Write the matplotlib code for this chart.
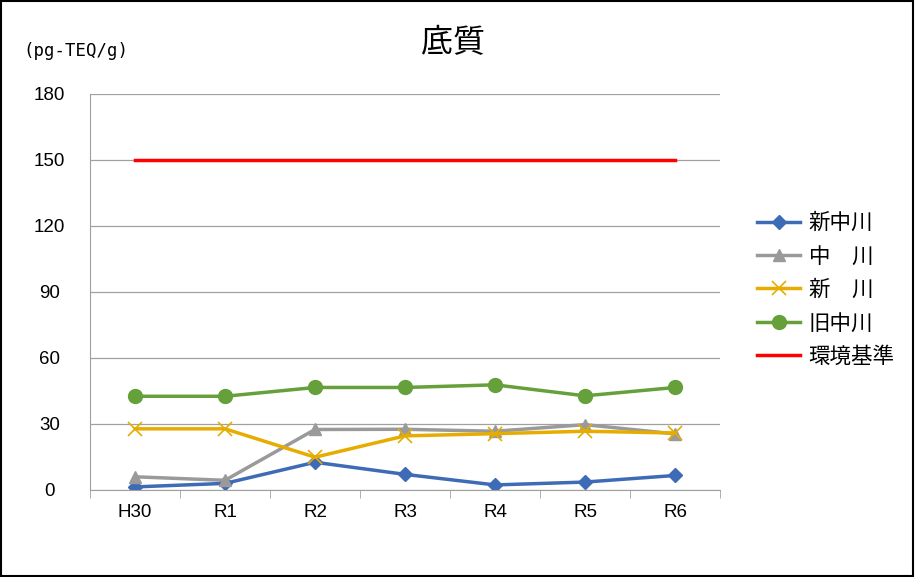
import matplotlib.pyplot as plt
from matplotlib.patches import Rectangle

plt.rcParams['font.family'] = ['Liberation Sans', 'Noto Sans CJK JP', 'DejaVu Sans']

years = ['H30', 'R1', 'R2', 'R3', 'R4', 'R5', 'R6']
shin_nakagawa = [1.4, 3.0, 12.6, 7.1, 2.3, 3.6, 6.6]
nakagawa = [6.0, 4.4, 27.5, 27.6, 26.7, 29.7, 25.5]
shinkawa = [27.8, 27.8, 14.9, 24.6, 25.6, 26.7, 25.9]
kyu_nakagawa = [42.6, 42.6, 46.6, 46.6, 47.8, 42.8, 46.6]
standard = [150] * len(years)

fig = plt.figure(figsize=(9.15, 5.77), dpi=100)
ax = fig.add_axes([0.0984, 0.1508, 0.6885, 0.6863])

x = list(range(len(years)))
ax.plot(x, shin_nakagawa, color='#3e6bb5', lw=2.5, marker='D', ms=7, label='新中川')
ax.plot(x, nakagawa, color='#9a9a9a', lw=2.5, marker='^', ms=9, label='中\u3000川')
ax.plot(x, shinkawa, color='#e6ad00', lw=2.5, marker='x', ms=10, mew=1.2, label='新\u3000川')
ax.plot(x, kyu_nakagawa, color='#65a03a', lw=2.5, marker='o', ms=10, label='旧中川')
ax.plot(x, standard, color='#ff0000', lw=2.5, label='環境基準')

ax.set_xlim(-0.5, 6.5)
ax.set_ylim(0, 180)
ax.set_yticks(range(0, 181, 30))
ax.set_xticks(x)
ax.set_xticklabels(years)
ax.set_xticks([i + 0.5 for i in range(-1, 7)], minor=True)
ax.tick_params(axis='x', which='major', length=0, labelsize=13.5, pad=10)
ax.tick_params(axis='x', which='minor', length=6, color='#a0a0a0')
ax.tick_params(axis='y', length=0, labelsize=13.5, pad=29)
for lbl in ax.get_yticklabels():
    lbl.set_horizontalalignment('center')
ax.grid(axis='y', color='#a0a0a0', lw=0.9)
ax.set_axisbelow(True)
for s in ['top', 'right']:
    ax.spines[s].set_visible(False)
for s in ['left', 'bottom']:
    ax.spines[s].set_color('#a0a0a0')

fig.text(0.495, 0.925, '底質', ha='center', va='center', fontsize=23,
         family=['Noto Sans CJK JP'])
fig.text(0.083, 0.912, '(pg-TEQ/g)', ha='center', va='center', fontsize=12.5,
         family=['DejaVu Sans Mono'])

ax.legend(loc='center left', bbox_to_anchor=(1.028, 0.505), frameon=False,
          handlelength=2.0, handletextpad=0.4, labelspacing=0.53,
          prop={'family': ['Noto Sans CJK JP'], 'size': 15.5})

fig.patches.append(Rectangle((0.001, 0.002), 0.997, 0.996, transform=fig.transFigure,
                             fill=False, edgecolor='black', lw=1.5))

fig.savefig('out.png', dpi=100)
